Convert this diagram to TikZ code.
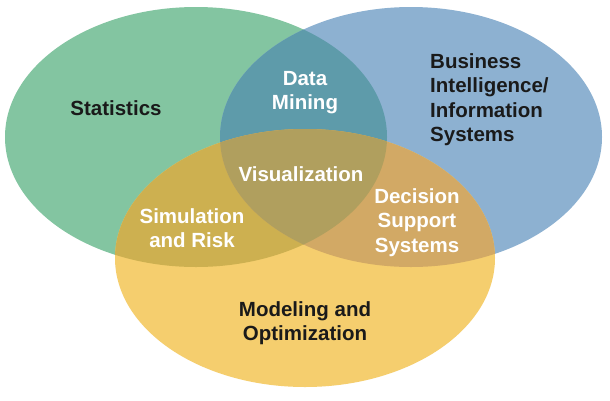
\documentclass[tikz,border=0pt]{standalone}
\usepackage{fontspec}
\setmainfont{Liberation Sans}
\definecolor{cG}{HTML}{83C5A1}
\definecolor{cB}{HTML}{8DB1D1}
\definecolor{cY}{HTML}{F5CE6E}
\definecolor{cGB}{HTML}{5E9BAA}
\definecolor{cGY}{HTML}{CDB050}
\definecolor{cBY}{HTML}{D2A965}
\definecolor{cGBY}{HTML}{B09F5E}
\definecolor{ink}{HTML}{1A1A1A}
\newcommand{\vs}{\vrule height 15.2pt depth 4.8pt width 0pt}
\tikzset{
  lbl/.style={inner sep=0pt, align=center, font=\fontsize{20.5}{24.5}\selectfont\bfseries},
  dark/.style={lbl, text=ink},
  light/.style={lbl, text=white},
}
\begin{document}
\begin{tikzpicture}[x=1pt,y=-1pt]
\useasboundingbox (0,0) rectangle (610,400);
\fill[white] (0,0) rectangle (610,400);
\def\GE{(196,137) ellipse [x radius=191, y radius=130]}
\def\BE{(411,137) ellipse [x radius=191, y radius=130]}
\def\YE{(305,258) ellipse [x radius=190, y radius=129]}
\fill[cG] \GE;
\fill[cB] \BE;
\fill[cY] \YE;
\begin{scope}\clip \GE; \fill[cGB] \BE; \end{scope}
\begin{scope}\clip \GE; \fill[cGY] \YE; \end{scope}
\begin{scope}\clip \BE; \fill[cBY] \YE; \end{scope}
\begin{scope}\clip \GE; \clip \BE; \fill[cGBY] \YE; \end{scope}

\node[dark] (stat) at (116,109.8) {\vs Statistics};
\node[light] (dm) at (305,92.05) {\vs Data\\\vs Mining};
\node[dark, align=left, anchor=west] (bi) at (430,99.55) {\vs Business\\\vs Intelligence/\\\vs Information\\\vs Systems};
\node[light] (vis) at (301,175.8) {\vs Visualization};
\node[light] (sim) at (192,230.05) {\vs Simulation\\\vs and Risk};
\node[light] (dss) at (417,222.3) {\vs Decision\\\vs Support\\\vs Systems};
\node[dark] (mod) at (305,323.05) {\vs Modeling and\\\vs Optimization};
\end{tikzpicture}
\end{document}
